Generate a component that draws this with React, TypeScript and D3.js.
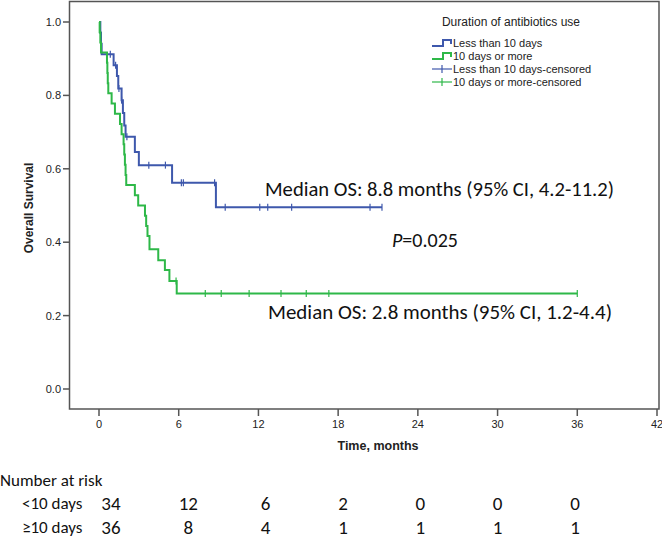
import React from "react";
import * as d3 from "d3";

// ---- data ----
const xTicks = [0, 6, 12, 18, 24, 30, 36, 42];
const yTicks = [0, 0.2, 0.4, 0.6, 0.8, 1.0];

const lessTimes = [0, 0.1, 0.15, 0.2, 1.1, 1.35, 1.45, 1.7, 1.8, 1.9, 2.0, 2.7, 3.0, 5.5, 8.8];
const lessSurv = [1.0, 0.971, 0.941, 0.912, 0.882, 0.853, 0.819, 0.787, 0.752, 0.718, 0.687, 0.646, 0.61, 0.562, 0.495];
const lessEnd = 21.3;
const lessCensor = [0.85, 1.25, 1.5, 1.7, 2.1, 3.75, 5.0, 6.2, 6.35, 8.7, 9.5, 12.1, 12.7, 14.5, 20.4, 21.3];

const moreTimes = [0, 0.05, 0.1, 0.15, 0.6, 0.63, 0.66, 0.7, 0.95, 1.2, 1.58, 1.7, 1.85, 1.9, 1.95, 2.0, 2.05, 2.7, 2.95, 3.46, 3.55, 3.65, 3.8, 4.46, 4.96, 5.3, 5.85];
const moreSurv = [1.0, 0.972, 0.944, 0.917, 0.889, 0.861, 0.833, 0.806, 0.778, 0.75, 0.722, 0.694, 0.667, 0.639, 0.611, 0.583, 0.556, 0.528, 0.5, 0.472, 0.444, 0.417, 0.381, 0.351, 0.324, 0.294, 0.26];
const moreEnd = 36;
const moreCensor = [5.8, 8.0, 9.2, 11.3, 13.7, 15.6, 17.3, 36];

const riskTimes = [0, 6, 12, 18, 24, 30, 36];
const riskLess = [34, 12, 6, 2, 0, 0, 0];
const riskMore = [36, 8, 4, 1, 1, 1, 1];

const legendLabels = ["Less than 10 days", "10 days or more", "Less than 10 days-censored", "10 days or more-censored"];

const BLUE = "#3E58AC";
const GREEN = "#2EB848";
const AXIS = "#555";
const W = 662, H = 541;

function survAt(times: number[], surv: number[], t: number) {
  let s = surv[0];
  for (let i = 0; i < times.length; i++) if (times[i] <= t) s = surv[i];
  return s;
}

export default function App() {
  const x = d3.scaleLinear().domain([0, 42]).range([99, 657]);
  const y = d3.scaleLinear().domain([0, 1]).range([389, 22]);
  const riskX = d3.scalePoint<number>().domain(riskTimes).range([111, 575]);

  const line = d3
    .line<[number, number]>()
    .x((d) => x(d[0]))
    .y((d) => y(d[1]))
    .curve(d3.curveStepAfter);

  const mk = (times: number[], surv: number[], end: number) => {
    const pts: [number, number][] = times.map((t, i) => [t, surv[i]]);
    pts.push([end, surv[surv.length - 1]]);
    return line(pts) || "";
  };

  const series = [
    { times: lessTimes, surv: lessSurv, end: lessEnd, cens: lessCensor, color: BLUE },
    { times: moreTimes, surv: moreSurv, end: moreEnd, cens: moreCensor, color: GREEN },
  ];

  const tickFont = "'Liberation Sans Narrow', 'Liberation Sans', Arial, sans-serif";
  const sans = "'Liberation Sans', Arial, sans-serif";
  const cal = "Carlito, Calibri, Lato, 'Open Sans', sans-serif";

  const legX = 432;
  const legRows = [43, 56, 69, 82];

  return (
    <svg
      width={W}
      height={H}
      style={{ position: "absolute", left: 0, top: 0, background: "#fff" }}
    >
      <rect x={0} y={0} width={W} height={H} fill="#fff" />
      {/* frame */}
      <rect x={69.5} y={1.5} width={589.5} height={407.5} fill="none" stroke={AXIS} strokeWidth={1.5} />
      {/* y ticks */}
      {yTicks.map((v) => (
        <g key={"y" + v}>
          <line x1={63} x2={69.5} y1={y(v)} y2={y(v)} stroke={AXIS} strokeWidth={1.5} />
          <text x={61} y={y(v) + 4} textAnchor="end" fontFamily={tickFont} fontSize={11} fill="#222">
            {v.toFixed(1)}
          </text>
        </g>
      ))}
      {/* x ticks */}
      {xTicks.map((v) => (
        <g key={"x" + v}>
          <line x1={x(v)} x2={x(v)} y1={409} y2={416} stroke={AXIS} strokeWidth={1.5} />
          <text x={x(v)} y={428} textAnchor="middle" fontFamily={tickFont} fontSize={11} fill="#222">
            {v}
          </text>
        </g>
      ))}
      {/* axis titles */}
      <text
        transform={`translate(33,208) rotate(-90)`}
        textAnchor="middle"
        fontFamily={sans}
        fontWeight="bold"
        fontSize={12}
        fill="#222"
      >
        Overall Survival
      </text>
      <text x={378} y={450} textAnchor="middle" fontFamily={sans} fontWeight="bold" fontSize={12.5} fill="#222">
        Time, months
      </text>

      {/* curves */}
      {series.map((s, i) => (
        <g key={"s" + i}>
          <path d={mk(s.times, s.surv, s.end)} fill="none" stroke={s.color} strokeWidth={2} />
          {s.cens.map((c, j) => {
            const v = survAt(s.times, s.surv, c);
            return (
              <line key={j} x1={x(c)} x2={x(c)} y1={y(v) - 3.5} y2={y(v) + 3.5} stroke={s.color} strokeWidth={1.2} />
            );
          })}
        </g>
      ))}

      {/* legend */}
      <text x={511} y={26} textAnchor="middle" fontFamily={sans} fontSize={12} fill="#222">
        Duration of antibiotics use
      </text>
      {[BLUE, GREEN].map((c, i) => (
        <path
          key={"lg" + i}
          d={`M${legX},${legRows[i] + 3}H${legX + 11}V${legRows[i] - 3}H${legX + 19}V${legRows[i] + 1}`}
          fill="none"
          stroke={c}
          strokeWidth={2}
        />
      ))}
      {[BLUE, GREEN].map((c, i) => (
        <g key={"lc" + i}>
          <line x1={legX} x2={legX + 20} y1={legRows[i + 2]} y2={legRows[i + 2]} stroke={c} strokeWidth={1.2} />
          <line x1={legX + 10} x2={legX + 10} y1={legRows[i + 2] - 4} y2={legRows[i + 2] + 4} stroke={c} strokeWidth={1.2} />
        </g>
      ))}
      {legendLabels.map((l, i) => (
        <text key={"ll" + i} x={legX + 21} y={legRows[i] + 4} fontFamily={sans} fontSize={11} fill="#222">
          {l}
        </text>
      ))}

      {/* annotations */}
      <text x={265} y={196} fontFamily={cal} fontSize={20} textLength={349} lengthAdjust="spacingAndGlyphs" fill="#111">
        Median OS: 8.8 months (95% CI, 4.2-11.2)
      </text>
      <text x={392} y={247} fontFamily={cal} fontSize={20} fill="#111">
        <tspan fontStyle="italic">P</tspan>=0.025
      </text>
      <text x={268} y={319} fontFamily={cal} fontSize={20} textLength={344} lengthAdjust="spacingAndGlyphs" fill="#111">
        Median OS: 2.8 months (95% CI, 1.2-4.4)
      </text>

      {/* number at risk */}
      <text x={0} y={486} fontFamily={cal} fontSize={17} fill="#111">
        Number at risk
      </text>
      <text x={22} y={509} fontFamily={cal} fontSize={17} fill="#111">
        {"<10 days"}
      </text>
      <text x={22} y={533} fontFamily={cal} fontSize={17} fill="#111">
        {"≥10 days"}
      </text>
      {riskTimes.map((t, i) => (
        <g key={"r" + i}>
          <text x={riskX(t)} y={510} textAnchor="middle" fontFamily={cal} fontSize={19} fill="#111">
            {riskLess[i]}
          </text>
          <text x={riskX(t)} y={534} textAnchor="middle" fontFamily={cal} fontSize={19} fill="#111">
            {riskMore[i]}
          </text>
        </g>
      ))}
    </svg>
  );
}
